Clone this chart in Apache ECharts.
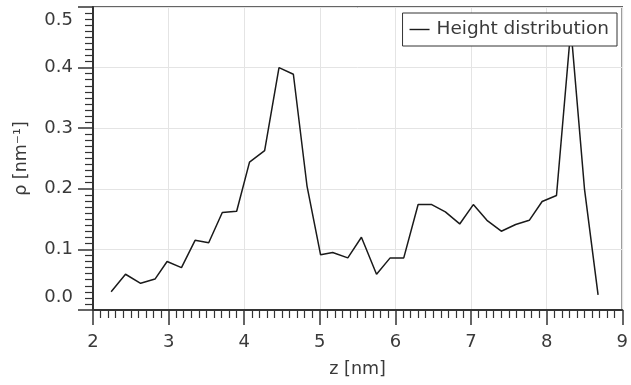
<!DOCTYPE html>
<html>
<head>
<meta charset="utf-8">
<script src="https://cdn.jsdelivr.net/npm/echarts@6/dist/echarts.min.js"></script>
<style>
    html, body { margin: 0; padding: 0; background: #fff; }
    #my_height_chart { width: 631px; height: 385px; }
</style>
</head>
<body>
<div id="my_height_chart"></div>
<script>
// z 坐标 (nm)
var zValues = [2.24, 2.43, 2.63, 2.82, 2.98, 3.17, 3.35, 3.53, 3.71, 3.90,
    4.07, 4.27, 4.46, 4.65, 4.83, 5.01, 5.17, 5.37, 5.55, 5.75,
    5.93, 6.11, 6.30, 6.48, 6.66, 6.85, 7.03, 7.21, 7.40, 7.59,
    7.77, 7.94, 8.13, 8.32, 8.50, 8.68]
// 密度 rho (nm^-1)
var rhoValues = [0.030, 0.059, 0.044, 0.051, 0.080, 0.070, 0.115, 0.111, 0.161, 0.163,
    0.244, 0.263, 0.400, 0.389, 0.205, 0.091, 0.095, 0.086, 0.120, 0.059,
    0.086, 0.086, 0.174, 0.174, 0.162, 0.142, 0.174, 0.148, 0.130, 0.141,
    0.148, 0.179, 0.189, 0.465, 0.200, 0.025]
var seriesName = 'Height distribution'
var xTicks = [2, 3, 4, 5, 6, 7, 8, 9]
var yTicks = [0.0, 0.1, 0.2, 0.3, 0.4, 0.5]

var font = 'DejaVu Sans'
var textColor = '#3a3a3a'
var axisColor = '#333'

var myChart = echarts.init(document.getElementById('my_height_chart'))

var points = zValues.map(function (z, i) {
    return [z, rhoValues[i]]
})

var option = {
    animation: false,
    grid: {
        left: 93,
        right: 8,
        top: 7,
        bottom: 75,
        show: true,
        borderColor: axisColor,
        borderWidth: 1.5
    },
    legend: {
        data: [seriesName],
        right: 14,
        top: 13,
        padding: [7, 8, 7, 7],
        // 图例只画一条细线
        icon: 'rect',
        itemWidth: 20,
        itemHeight: 1.4,
        itemGap: 0,
        backgroundColor: '#fff',
        borderColor: axisColor,
        borderWidth: 1,
        borderRadius: 0,
        textStyle: {
            fontFamily: font,
            fontSize: 18.5,
            color: textColor,
            padding: [0, 0, 0, 2]
        }
    },
    xAxis: {
        type: 'value',
        min: xTicks[0],
        max: xTicks[xTicks.length - 1],
        interval: 1,
        name: 'z [nm]',
        nameLocation: 'middle',
        nameGap: 50,
        nameTextStyle: { fontFamily: font, fontSize: 17.5, color: textColor },
        axisLine: { show: true, lineStyle: { color: axisColor, width: 2 } },
        axisTick: { show: true, length: 15, lineStyle: { color: axisColor, width: 1.5 } },
        minorTick: { show: true, splitNumber: 10, length: 8, lineStyle: { color: axisColor, width: 1.2 } },
        axisLabel: {
            fontFamily: font,
            fontSize: 18,
            color: textColor,
            margin: 23,
            showMinLabel: true,
            showMaxLabel: true
        },
        splitLine: { show: true, lineStyle: { color: '#e4e4e4', width: 1 } }
    },
    yAxis: {
        type: 'value',
        min: yTicks[0],
        max: yTicks[yTicks.length - 1],
        interval: 0.1,
        name: 'ρ [nm⁻¹]',
        nameLocation: 'middle',
        nameGap: 63,
        nameTextStyle: { fontFamily: font, fontSize: 17.5, color: textColor },
        axisLine: { show: true, lineStyle: { color: axisColor, width: 2 } },
        axisTick: { show: true, length: 15, lineStyle: { color: axisColor, width: 1.5 } },
        minorTick: { show: true, splitNumber: 10, length: 8, lineStyle: { color: axisColor, width: 1.2 } },
        axisLabel: {
            fontFamily: font,
            fontSize: 18,
            color: textColor,
            margin: 20,
            // 首尾刻度标签往里挪
            formatter: function (v) {
                var s = v.toFixed(1)
                if (Math.abs(v - yTicks[0]) < 1e-9) return '{lo|' + s + '}'
                if (Math.abs(v - yTicks[yTicks.length - 1]) < 1e-9) return '{hi|' + s + '}'
                return s
            },
            rich: {
                lo: { fontFamily: font, fontSize: 18, color: textColor, padding: [0, 0, 26, 0] },
                hi: { fontFamily: font, fontSize: 18, color: textColor, padding: [26, 0, 0, 0] }
            }
        },
        splitLine: { show: true, lineStyle: { color: '#e4e4e4', width: 1 } }
    },
    series: [
        {
            name: seriesName,
            type: 'line',
            symbol: 'none',
            data: points,
            lineStyle: { color: '#1a1a1a', width: 1.5 },
            itemStyle: { color: '#1a1a1a' },
            z: 2
        }
    ]
}

myChart.setOption(option)
</script>
</body>
</html>
